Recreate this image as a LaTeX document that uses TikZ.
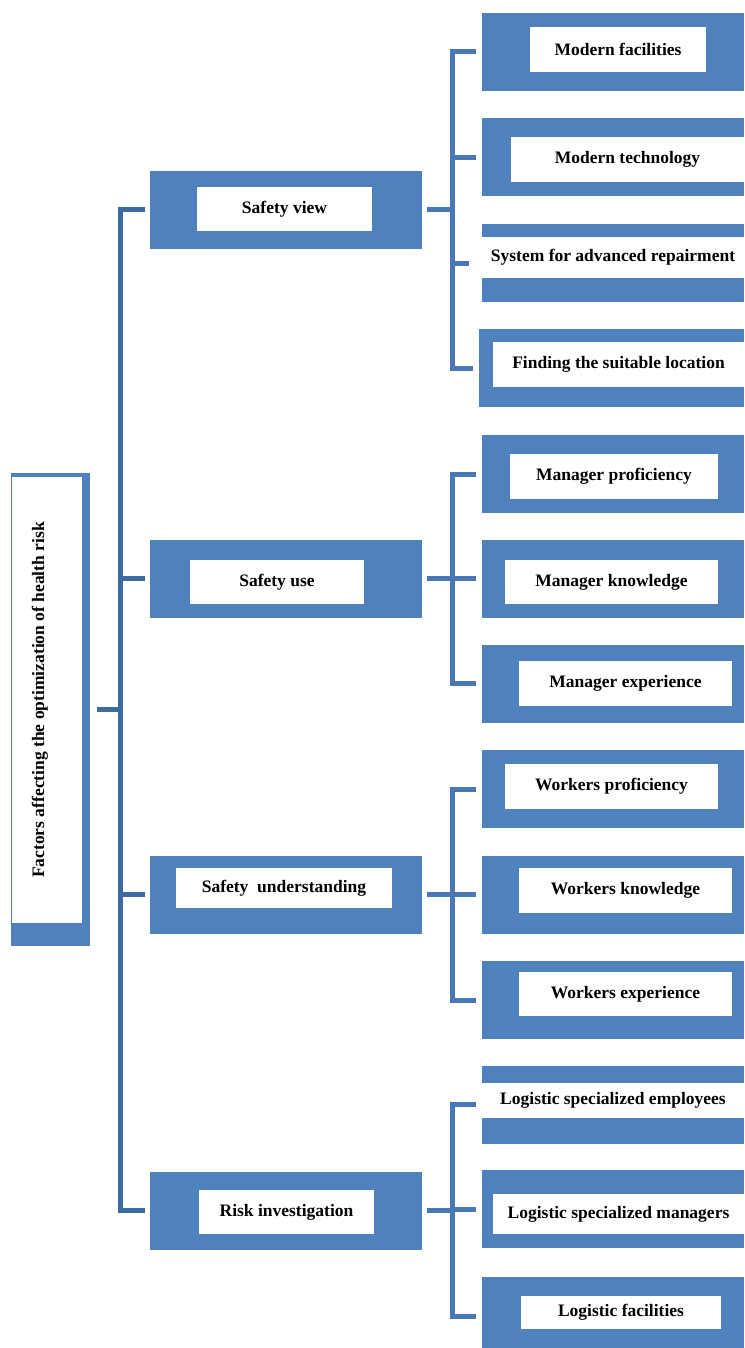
\documentclass[tikz,border=0pt]{standalone}
\usepackage{fontspec}
\setmainfont{Liberation Serif}
\definecolor{boxblue}{RGB}{79,129,189}
\definecolor{lineblue}{RGB}{72,120,182}
\definecolor{trunkblue}{RGB}{62,106,162}
\tikzset{
  outer/.style={fill=boxblue, inner sep=0pt, minimum height=78pt},
  lone/.style={outer, minimum width=272pt},
  ltwo/.style={outer, minimum width=262pt},
  txt/.style={fill=white, inner sep=0pt, font=\bfseries\fontsize{17.5}{20}\selectfont},
  link/.style={draw=lineblue, line width=5pt},
  trunklink/.style={link, draw=trunkblue}
}

\begin{document}
\begin{tikzpicture}[x=1pt,y=-1pt]
            \useasboundingbox (0,0) rectangle (744,1348);
            \clip (0,0) rectangle (744,1348);

            \node[outer, minimum width=79pt, minimum height=473pt] (root) at (50.5,709.5) {};
            \node[fill=white, inner sep=0pt, minimum width=70pt, minimum height=446pt] (rootbg) at (47,700) {};
            \node[txt, rotate=90] (roottxt) at (40,700) {Factors affecting the optimization of health risk};

            \node[lone] (view) at (286,210) {};
            \node[txt, minimum width=175pt, minimum height=44pt] (viewtxt) at (284.5,209) {Safety view};
            \node[lone] (use) at (286,578.5) {};
            \node[txt, minimum width=174pt, minimum height=44pt] (usetxt) at (277,582) {Safety use};
            \node[lone] (under) at (286,894.5) {};
            \node[txt, minimum width=216pt, minimum height=40pt] (undertxt) at (284,888) {Safety~~understanding};
            \node[lone] (risk) at (286,1210.5) {};
            \node[txt, minimum width=175pt, minimum height=44pt] (risktxt) at (286.5,1212) {Risk investigation};

            \node[ltwo] (facil) at (613,52) {};
            \node[txt, minimum width=176pt, minimum height=45pt] (faciltxt) at (618,49.5) {Modern facilities};
            \node[ltwo] (tech) at (613,157.5) {};
            \node[txt, minimum width=233pt, minimum height=45pt] (techtxt) at (627.5,159.5) {Modern technology};
            \node[ltwo] (repair) at (613,263) {};
            \node[txt, minimum width=262pt, minimum height=41pt] (repairtxt) at (613,257.5) {System for advanced repairment};
            \node[outer, minimum width=265pt] (locat) at (611.5,368) {};
            \node[txt, minimum width=251pt, minimum height=45pt] (locattxt) at (618.5,364.5) {Finding the suitable location};

            \node[ltwo] (mprof) at (613,474) {};
            \node[txt, minimum width=208pt, minimum height=45pt] (mproftxt) at (614,476.5) {Manager proficiency};
            \node[ltwo] (mknow) at (613,578.5) {};
            \node[txt, minimum width=213pt, minimum height=44pt] (mknowtxt) at (611.5,582) {Manager knowledge};
            \node[ltwo] (mexp) at (613,683.5) {};
            \node[txt, minimum width=213pt, minimum height=45pt] (mexptxt) at (625.5,683.5) {Manager experience};

            \node[ltwo] (wprof) at (613,789) {};
            \node[txt, minimum width=213pt, minimum height=45pt] (wproftxt) at (611.5,786.5) {Workers proficiency};
            \node[ltwo] (wknow) at (613,894.5) {};
            \node[txt, minimum width=213pt, minimum height=45pt] (wknowtxt) at (625.5,890.5) {Workers knowledge};
            \node[ltwo] (wexp) at (613,1000) {};
            \node[txt, minimum width=213pt, minimum height=44pt] (wexptxt) at (625.5,994) {Workers experience};

            \node[ltwo] (lemp) at (613,1104.5) {};
            \node[txt, minimum width=262pt, minimum height=35pt] (lemptxt) at (613,1100.5) {Logistic specialized employees};
            \node[ltwo] (lman) at (613,1209) {};
            \node[txt, minimum width=251pt, minimum height=40pt] (lmantxt) at (618.5,1214) {Logistic specialized managers};
            \node[ltwo] (lfac) at (613,1316) {};
            \node[txt, minimum width=200pt, minimum height=33pt] (lfactxt) at (621,1312.5) {Logistic facilities};

            \coordinate (trunk) at (120,710);
            \draw[trunklink] ([xshift=7pt]root.east) -- (trunk |- root.east);
            \draw[trunklink] ([xshift=-5pt]view.west) -| (trunk) |- ([xshift=-5pt]risk.west);
            \draw[trunklink] (trunk |- use) -- ([xshift=-5pt]use.west);
            \draw[trunklink] (trunk |- under) -- ([xshift=-5pt]under.west);

            \coordinate (bview) at (452,210);
            \draw[link] ([xshift=5pt]view.east) -- (bview);
            \draw[link] ([xshift=-6pt]facil.west) -| (bview) |- ([xshift=-6pt]locat.west);
            \draw[link] (bview |- tech) -- ([xshift=-6pt]tech.west);
            \draw[link] (bview |- repair) -- ([xshift=-13pt]repair.west);

            \coordinate (buse) at (452,578.5);
            \draw[link] ([xshift=5pt]use.east) -- (buse);
            \draw[link] ([xshift=-6pt]mprof.west) -| (buse) |- ([xshift=-6pt]mexp.west);
            \draw[link] (buse) -- ([xshift=-6pt]mknow.west);

            \coordinate (bunder) at (452,894.5);
            \draw[link] ([xshift=5pt]under.east) -- (bunder);
            \draw[link] ([xshift=-6pt]wprof.west) -| (bunder) |- ([xshift=-6pt]wexp.west);
            \draw[link] (bunder) -- ([xshift=-6pt]wknow.west);

            \coordinate (brisk) at (452,1210.5);
            \draw[link] ([xshift=5pt]risk.east) -- (brisk);
            \draw[link] ([xshift=-6pt]lemp.west) -| (brisk) |- ([xshift=-6pt]lfac.west);
            \draw[link] (brisk |- lman) -- ([xshift=-6pt]lman.west);
        \end{tikzpicture}
\end{document}
